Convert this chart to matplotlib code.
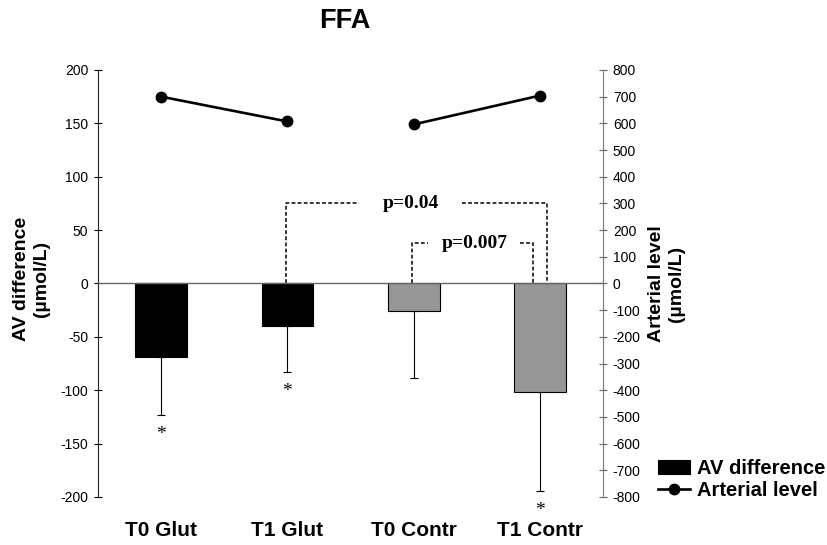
import numpy as np
import matplotlib.pyplot as plt

plt.rcParams["font.family"] = ["Liberation Sans", "DejaVu Sans"]
plt.rcParams["axes.unicode_minus"] = False

# ================= DATA =================
groups = ["T0 Glut", "T1 Glut", "T0 Contr", "T1 Contr"]
av_diff = [-69, -40, -26, -102]          # umol/L, left axis
av_err = [54, 43, 63, 92]                # lower error only
arterial = [700, 607, 596, 704]          # umol/L, right axis
bar_colors = ["black", "black", "#969696", "#969696"]
star_groups = [0, 1, 3]
# =======================================

fig = plt.figure(figsize=(8.28, 5.45), dpi=100)
ax = fig.add_axes([0.1184, 0.0881, 0.6099, 0.7835])
x = np.arange(len(groups))

ax.bar(x, av_diff, width=0.41, color=bar_colors, edgecolor="black",
       linewidth=0.8, zorder=2, label="AV difference")
ax.errorbar(x, av_diff, yerr=[av_err, [0] * len(groups)], fmt="none",
            ecolor="black", elinewidth=0.8, capsize=3, capthick=0.8, zorder=1)

# significance stars below the error bars
for i in star_groups:
    ax.annotate("*", (x[i], av_diff[i] - av_err[i]), xytext=(0, -8),
                textcoords="offset points", ha="center", va="top",
                fontsize=14, family="Liberation Serif")

ax.axhline(0, color="#666666", linewidth=1.0, zorder=3)
ax.set_xlim(-0.5, 3.5)
ax.set_ylim(-200, 200)
ax.set_yticks(np.arange(-200, 201, 50))
ax.set_xticks(x)
ax.set_xticklabels(groups, fontsize=15, weight="bold")
ax.tick_params(axis="x", length=0, pad=17)
ax.tick_params(axis="y", direction="inout", length=6, labelsize=10, pad=4)
for s in ["top", "bottom", "right"]:
    ax.spines[s].set_visible(False)
ax.spines["left"].set_color("#222222")
ax.set_ylabel("AV difference\n(µmol/L)", fontsize=14, weight="bold")
ax.yaxis.set_label_coords(-0.095, 0.51)

# right axis - arterial level
ax2 = ax.twinx()
ax2.set_ylim(-800, 800)
ax2.set_yticks(np.arange(-800, 801, 100))
ax2.tick_params(axis="y", direction="inout", length=6, labelsize=10, pad=4,
                color="#666666")
for s in ["top", "bottom", "left"]:
    ax2.spines[s].set_visible(False)
ax2.spines["right"].set_color("#777777")
ax2.plot(x[:2], arterial[:2], color="black", lw=1.9, marker="o", ms=7.5,
         label="Arterial level")
ax2.plot(x[2:], arterial[2:], color="black", lw=1.9, marker="o", ms=7.5)
ax2.set_ylabel("Arterial level\n(µmol/L)", fontsize=14, weight="bold")
ax2.yaxis.set_label_coords(1.089, 0.5)

# p-value brackets (left-axis units)
dash = dict(color="black", lw=1.1, ls=(0, (2.5, 1.5)))
ax.plot([0.99, 0.99, 1.57], [0, 75, 75], **dash)
ax.plot([2.38, 3.06, 3.06], [75, 75, 0], **dash)
ax.text(1.975, 75, "p=0.04", ha="center", va="center", fontsize=14,
        weight="bold", family="Liberation Serif")
ax.plot([1.99, 1.99, 2.11], [0, 37.7, 37.7], **dash)
ax.plot([2.84, 2.945, 2.945], [37.7, 37.7, 0], **dash)
ax.text(2.486, 37.7, "p=0.007", ha="center", va="center", fontsize=14,
        weight="bold", family="Liberation Serif")

fig.text(344.5 / 828, 1 - 28 / 545, "FFA", ha="center", va="baseline",
         fontsize=19.5, weight="bold")

h1 = ax.get_legend_handles_labels()
h2 = ax2.get_legend_handles_labels()
fig.legend(h1[0] + h2[0], h1[1] + h2[1], loc="upper left",
           bbox_to_anchor=(658 / 828, 1 - 459 / 545), frameon=False,
           prop={"size": 14.5, "weight": "bold"}, borderpad=0, borderaxespad=0,
           handlelength=1.6, handletextpad=0.35, labelspacing=0.15)

fig.savefig("out.png", dpi=100)
